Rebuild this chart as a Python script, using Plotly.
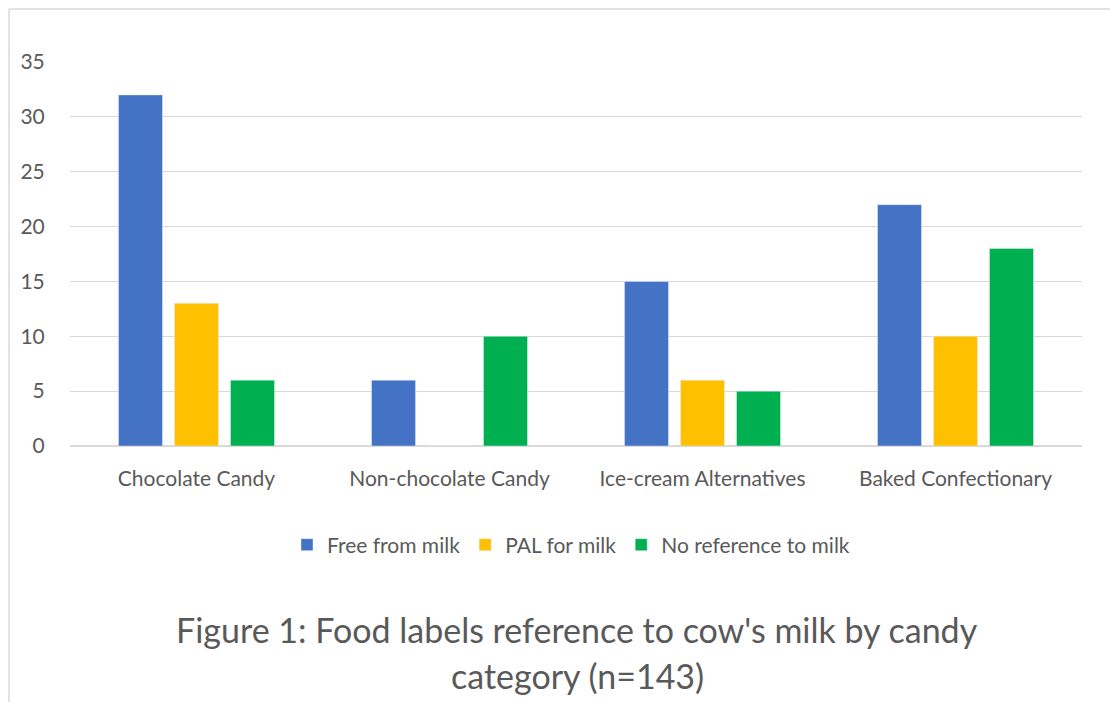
import plotly.graph_objects as go

categories = ["Chocolate Candy", "Non-chocolate Candy", "Ice-cream Alternatives", "Baked Confectionary"]
free_from_milk = [32, 6, 15, 22]
pal_for_milk = [13, 0, 6, 10]
no_reference = [6, 10, 5, 18]
y_ticks = [0, 5, 10, 15, 20, 25, 30, 35]
title_lines = ["Figure 1: Food labels reference to cow's milk by candy", "category (n=143)"]

FONT = "Lato, 'Open Sans', sans-serif"
GRAY = "#595959"

fig = go.Figure()
fig.add_bar(x=categories, y=free_from_milk, name="Free from milk", marker_color="#4472C4")
fig.add_bar(x=categories, y=pal_for_milk, name="PAL for milk", marker_color="#FFC000")
fig.add_bar(x=categories, y=no_reference, name="No reference to milk", marker_color="#00B050")

W, H = 1110, 702
L, R, T, B = 70, 28, 62, 256
pw, ph = W - L - R, H - T - B

def px(x):
    return (x - L) / pw

def py(y):
    return (H - B - y) / ph

fig.update_layout(
    width=W, height=H,
    margin=dict(l=L, r=R, t=T, b=B),
    paper_bgcolor="white", plot_bgcolor="white",
    barmode="group", bargap=0.336, bargroupgap=0.214,
    font=dict(family=FONT, color=GRAY, size=21),
    showlegend=True,
    legend=dict(orientation="h", x=px(571), xanchor="center", y=py(545), yanchor="middle",
                font=dict(size=21, color=GRAY), traceorder="normal", itemwidth=30),
    xaxis=dict(showgrid=False, showline=False, zeroline=False, ticks="outside",
               ticklen=14, tickcolor="rgba(0,0,0,0)", tickfont=dict(size=21, color=GRAY)),
    yaxis=dict(range=[0, 35], tickvals=y_ticks, showgrid=True, gridcolor="#d9d9d9", gridwidth=1,
               zeroline=True, zerolinecolor="#d9d9d9", zerolinewidth=1.5, showline=False,
               ticks="outside", ticklen=20, tickcolor="rgba(0,0,0,0)",
               tickfont=dict(size=21, color=GRAY)),
    annotations=[
        dict(text=title_lines[0], x=px(577), y=py(629), xref="paper", yref="paper", xanchor="center",
             yanchor="middle", showarrow=False, font=dict(size=34, color=GRAY, family=FONT)),
        dict(text=title_lines[1], x=px(577), y=py(675), xref="paper", yref="paper", xanchor="center",
             yanchor="middle", showarrow=False, font=dict(size=34, color=GRAY, family=FONT)),
    ],
    shapes=[
        dict(type="line", xref="paper", yref="paper", x0=px(9), x1=px(9), y0=py(9), y1=py(702),
             line=dict(color="#d9d9d9", width=1.5)),
        dict(type="line", xref="paper", yref="paper", x0=px(9), x1=px(1110), y0=py(9), y1=py(9),
             line=dict(color="#d9d9d9", width=1.5)),
    ],
)

fig.write_html("out.html")
